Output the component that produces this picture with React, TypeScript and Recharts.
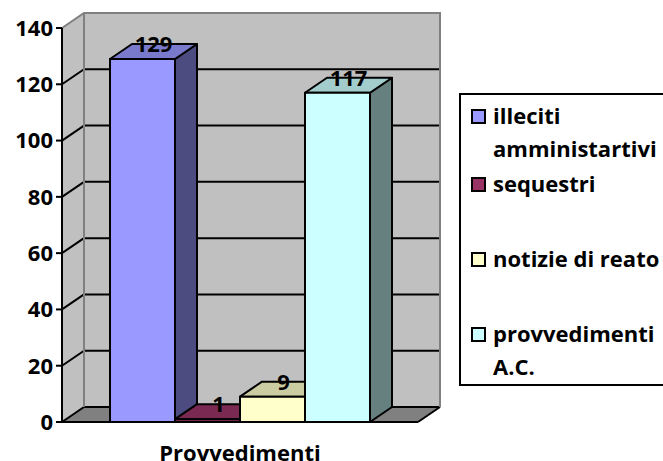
import React from "react";
import { BarChart, Bar, XAxis, YAxis, LabelList, usePlotArea } from "recharts";

// single category, four series
const categories = ["Provvedimenti"];
const seriesNames = [
  "illeciti amministartivi",
  "sequestri",
  "notizie di reato",
  "provvedimenti A.C.",
];
const seriesValues = [129, 1, 9, 117];
const yTicks = [0, 20, 40, 60, 80, 100, 120, 140];

// front / top / side shades for each series
const FACES = [
  { front: "#9999FF", top: "#7A7ACC", side: "#4C4C80" },
  { front: "#993366", top: "#7A2952", side: "#4C1933" },
  { front: "#FFFFCC", top: "#CCCCA3", side: "#808066" },
  { front: "#CCFFFF", top: "#A3CCCC", side: "#668080" },
];

const KEYS = ["s0", "s1", "s2", "s3"];
const DX = 22;
const DY = 15;
const Y_MAX = 140;
const FONT = "'Open Sans', Lato, sans-serif";
const FS = 22;
// top of each legend row inside the legend box
const LEGEND_ROW_TOP = [4, 72, 147, 222];

const data = categories.map((name) => {
  const row: Record<string, string | number> = { name };
  seriesValues.forEach((v, i) => (row[KEYS[i]] = v));
  return row;
});

function Walls() {
  const plot = usePlotArea();
  if (!plot) return null;
  const { x, y, width, height } = plot;
  const bottom = y + height;
  const right = x + width;
  const yAt = (t: number) => y + height * (1 - t / Y_MAX);
  return (
    <g>
      {/* side wall */}
      <polygon
        points={`${x},${y} ${x + DX},${y - DY} ${x + DX},${bottom - DY} ${x},${bottom}`}
        fill="#C0C0C0"
      />
      {/* back wall */}
      <rect x={x + DX} y={y - DY} width={width} height={height} fill="#C0C0C0" />
      {/* floor */}
      <polygon
        points={`${x},${bottom} ${right},${bottom} ${right + DX},${bottom - DY} ${x + DX},${bottom - DY}`}
        fill="#808080"
      />
      {yTicks
        .filter((t) => t < Y_MAX)
        .map((t) => (
          <g key={t}>
            <line x1={x} y1={yAt(t)} x2={x + DX} y2={yAt(t) - DY} stroke="#000" strokeWidth={2} />
            <line x1={x + DX} y1={yAt(t) - DY} x2={right + DX} y2={yAt(t) - DY} stroke="#000" strokeWidth={2} />
          </g>
        ))}
      <line x1={right} y1={bottom} x2={right + DX} y2={bottom - DY} stroke="#000" strokeWidth={2} />
      {/* wall edges */}
      <polyline
        points={`${x},${y} ${x + DX},${y - DY} ${right + DX},${y - DY} ${right + DX},${bottom - DY}`}
        fill="none"
        stroke="#808080"
        strokeWidth={2}
      />
      <line x1={x + DX} y1={y - DY} x2={x + DX} y2={bottom - DY} stroke="#808080" strokeWidth={2} />
    </g>
  );
}

function makeBox(i: number) {
  const c = FACES[i];
  return (props: any) => {
    const { x, y, width, height } = props;
    const r = x + width;
    const b = y + height;
    return (
      <g stroke="#000" strokeWidth={2} strokeLinejoin="round">
        <polygon points={`${r},${y} ${r + DX},${y - DY} ${r + DX},${b - DY} ${r},${b}`} fill={c.side} />
        <polygon points={`${x},${y} ${x + DX},${y - DY} ${r + DX},${y - DY} ${r},${y}`} fill={c.top} />
        <rect x={x} y={y} width={width} height={height} fill={c.front} />
      </g>
    );
  };
}

function valueLabel(props: any) {
  const { x, y, width, value } = props;
  return (
    <text
      x={x + width / 2 + DX / 2}
      y={y - DY - 1}
      textAnchor="middle"
      dominantBaseline="central"
      fontFamily={FONT}
      fontWeight={700}
      fontSize={FS}
      fill="#000"
    >
      {value}
    </text>
  );
}

function Legend3D() {
  return (
    <div
      style={{
        position: "absolute",
        left: 459,
        top: 93,
        width: 230,
        height: 289,
        border: "2px solid #000",
        background: "#fff",
        fontFamily: FONT,
        fontWeight: 700,
        fontSize: FS,
        lineHeight: "33px",
      }}
    >
      {seriesNames.map((name, i) => (
        <div key={name} style={{ position: "absolute", left: 0, top: LEGEND_ROW_TOP[i] }}>
          <div
            style={{
              position: "absolute",
              left: 10,
              top: 10,
              width: 11,
              height: 11,
              border: "2px solid #000",
              background: FACES[i].front,
            }}
          />
          <div style={{ marginLeft: 32, width: 172 }}>{name}</div>
        </div>
      ))}
    </div>
  );
}

export default function App() {
  return (
    <div style={{ position: "relative", width: 663, height: 461, overflow: "hidden", background: "#fff" }}>
      <style>{"body{margin:0}"}</style>
      <BarChart
        width={663}
        height={461}
        data={data}
        margin={{ top: 28, right: 245, bottom: 0, left: 0 }}
        barCategoryGap={48}
        barGap={0}
      >
        <Walls />
        <XAxis
          dataKey="name"
          height={39}
          tickLine={false}
          axisLine={{ stroke: "#000", strokeWidth: 2 }}
          tickMargin={17}
          tick={{ fill: "#000", fontSize: FS, fontWeight: 700, fontFamily: FONT }}
        />
        <YAxis
          width={62}
          domain={[0, Y_MAX]}
          ticks={yTicks}
          interval={0}
          tickMargin={3}
          tickLine={{ stroke: "#000", strokeWidth: 2 }}
          axisLine={{ stroke: "#000", strokeWidth: 2 }}
          tick={{ fill: "#000", fontSize: FS, fontWeight: 700, fontFamily: FONT }}
        />
        {KEYS.map((k, i) => (
          <Bar key={k} dataKey={k} name={seriesNames[i]} shape={makeBox(i)} isAnimationActive={false}>
            <LabelList dataKey={k} content={valueLabel} />
          </Bar>
        ))}
      </BarChart>
      <Legend3D />
    </div>
  );
}
